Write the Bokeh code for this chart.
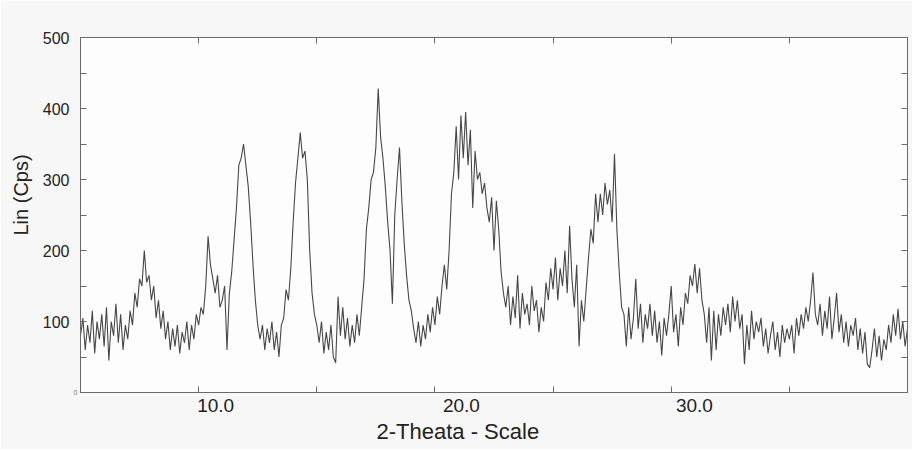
from bokeh.plotting import figure
from bokeh.models import Range1d, FixedTicker, LinearAxis, Title
from bokeh.embed import file_html
from bokeh.resources import INLINE

# ---- data ----
theta_start = 5.0
theta_step = 0.1
r05 = [80, 105, 60, 95, 70, 115, 55, 100, 75, 110]
r06 = [65, 120, 45, 100, 80, 125, 70, 110, 60, 95]
r07 = [75, 115, 95, 140, 120, 160, 150, 200, 155, 165]
r08 = [130, 150, 105, 130, 90, 115, 75, 100, 60, 90]
r09 = [65, 95, 55, 85, 70, 100, 60, 95, 75, 110]
r10 = [95, 120, 110, 150, 220, 180, 160, 140, 165, 120]
r11 = [130, 150, 60, 140, 170, 215, 260, 320, 330, 350]
r12 = [320, 290, 240, 180, 130, 95, 75, 95, 60, 90]
r13 = [70, 100, 60, 85, 50, 95, 105, 145, 130, 175]
r14 = [240, 295, 330, 366, 330, 340, 300, 200, 140, 110]
r15 = [95, 70, 100, 55, 85, 60, 95, 50, 42, 135]
r16 = [80, 120, 75, 105, 65, 95, 70, 110, 80, 120]
r17 = [160, 230, 260, 300, 310, 345, 428, 360, 330, 290]
r18 = [240, 200, 125, 250, 300, 345, 270, 210, 165, 130]
r19 = [115, 90, 70, 100, 65, 95, 75, 110, 85, 120]
r20 = [95, 135, 110, 150, 180, 145, 200, 280, 310, 375]
r21 = [300, 390, 330, 395, 320, 370, 260, 340, 300, 310]
r22 = [280, 295, 260, 240, 275, 200, 270, 230, 170, 140]
r23 = [120, 150, 95, 135, 105, 165, 90, 140, 110, 125]
r24 = [95, 150, 115, 130, 85, 120, 100, 155, 130, 175]
r25 = [145, 190, 130, 175, 150, 200, 140, 235, 160, 120]
r26 = [180, 65, 130, 100, 145, 190, 230, 210, 280, 240]
r27 = [280, 250, 295, 265, 285, 240, 336, 230, 170, 120]
r28 = [110, 65, 120, 75, 105, 160, 90, 125, 70, 110]
r29 = [90, 125, 80, 115, 70, 100, 52, 105, 80, 110]
r30 = [150, 85, 110, 65, 120, 95, 140, 125, 165, 150]
r31 = [181, 140, 175, 130, 110, 70, 120, 45, 115, 60]
r32 = [110, 80, 120, 95, 125, 85, 135, 100, 130, 90]
r33 = [110, 40, 95, 60, 115, 75, 100, 85, 105, 65]
r34 = [90, 55, 80, 100, 60, 85, 50, 95, 70, 90]
r35 = [75, 95, 55, 105, 80, 110, 90, 120, 100, 130]
r36 = [169, 110, 95, 125, 80, 115, 90, 135, 75, 105]
r37 = [140, 85, 110, 70, 100, 65, 95, 80, 105, 60]
r38 = [90, 55, 85, 40, 35, 60, 90, 50, 80, 45]
r39 = [75, 60, 95, 70, 110, 80, 118, 75, 100, 65]
r40 = [90]

x_ticks = [10, 15, 20, 25, 30, 35]
x_label_values = [10, 20, 30]
x_label_texts = ["10.0", "20.0", "30.0"]
y_ticks = [0, 50, 100, 150, 200, 250, 300, 350, 400, 450, 500]
y_label_ticks = [100, 200, 300, 400, 500]
x_title = "2-Theata - Scale"
y_title = "Lin (Cps)"

counts = (r05 + r06 + r07 + r08 + r09 + r10 + r11 + r12 + r13 + r14 + r15 + r16 +
          r17 + r18 + r19 + r20 + r21 + r22 + r23 + r24 + r25 + r26 + r27 + r28 +
          r29 + r30 + r31 + r32 + r33 + r34 + r35 + r36 + r37 + r38 + r39 + r40)
theta = [round(theta_start + theta_step * i, 2) for i in range(len(counts))]

FONT = "Liberation Sans"
TXT = "#222222"
AX = "#6a6a6a"

p = figure(width=912, height=449, output_backend="svg", toolbar_location=None,
           x_range=Range1d(5, 40), y_range=Range1d(0, 500),
           x_axis_type=None, y_axis_type=None,
           min_border_left=79, min_border_right=5, min_border_top=37, min_border_bottom=57)
p.background_fill_color = "#fdfdfd"
p.border_fill_color = "#f7f7f7"
p.outline_line_color = AX
p.outline_line_width = 1


def style_ticks(a, tick_in=6):
    a.major_tick_in = tick_in
    a.major_tick_out = 0
    a.minor_tick_in = 0
    a.minor_tick_out = 0
    a.axis_line_color = AX
    a.major_tick_line_color = AX
    return a


def tick_only(ticks):
    a = style_ticks(LinearAxis(ticker=FixedTicker(ticks=ticks, minor_ticks=[])))
    a.major_label_overrides = {v: "" for v in ticks}
    a.major_label_text_font_size = "1px"
    a.major_label_standoff = 0
    return a


# bottom: inward ticks every 5 at the frame edge
p.add_layout(tick_only(x_ticks), "below")

# bottom labels, each set just right of its tick as in the original
# (offset of the label centre from the tick, in axis units)
x_label_shift = [0.72, 1.12, 0.98]
lx = LinearAxis(ticker=FixedTicker(ticks=[v + s for v, s in zip(x_label_values, x_label_shift)],
                                   minor_ticks=[]))
lx.major_label_overrides = {v + s: t for v, s, t in zip(x_label_values, x_label_shift, x_label_texts)}
lx.major_tick_in = 0
lx.major_tick_out = 0
lx.minor_tick_in = 0
lx.minor_tick_out = 0
lx.axis_line_color = None
lx.major_tick_line_color = None
lx.major_label_text_font = FONT
lx.major_label_text_font_size = "19px"
lx.major_label_text_color = TXT
lx.major_label_standoff = 6
p.add_layout(lx, "below")

# top and right: inward ticks only
p.add_layout(tick_only(x_ticks), "above")
p.add_layout(tick_only(y_ticks), "right")

# left inner axis: ticks and the tiny "0"
ly = style_ticks(LinearAxis(ticker=FixedTicker(ticks=y_ticks, minor_ticks=[])))
ly.major_label_overrides = {v: ("0" if v == 0 else "") for v in y_ticks}
ly.major_label_text_font = FONT
ly.major_label_text_font_size = "7px"
ly.major_label_text_color = "#777777"
ly.major_label_standoff = 3
p.add_layout(ly, "left")

# left outer axis: the 100..500 labels
ly2 = LinearAxis(ticker=FixedTicker(ticks=y_label_ticks, minor_ticks=[]))
ly2.major_tick_in = 0
ly2.major_tick_out = 0
ly2.minor_tick_in = 0
ly2.minor_tick_out = 0
ly2.axis_line_color = None
ly2.major_tick_line_color = None
ly2.major_label_text_font = FONT
ly2.major_label_text_font_size = "16px"
ly2.major_label_text_color = TXT
ly2.major_label_standoff = 1
p.add_layout(ly2, "left")

p.line(theta, counts, line_color="#474747", line_width=1.1)

# axis titles
p.add_layout(Title(text=x_title, align="left", offset=296, standoff=4,
                   text_font=FONT, text_font_size="22px", text_font_style="normal",
                   text_color=TXT), "below")
p.add_layout(Title(text=y_title, align="left", offset=157, standoff=15,
                   text_font=FONT, text_font_size="20px", text_font_style="normal",
                   text_color=TXT), "left")

open("out.html", "w").write(file_html(p, INLINE))
